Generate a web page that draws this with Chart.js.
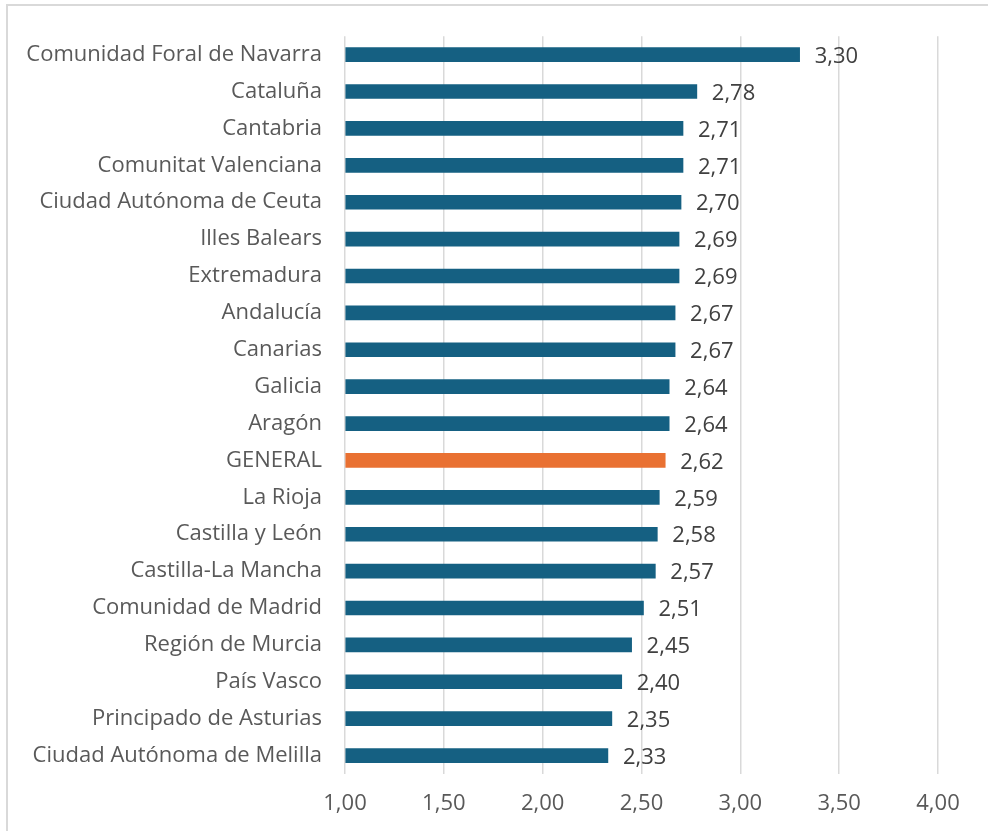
<!DOCTYPE html>
<html>
<head>
<meta charset="utf-8">
<script src="https://cdn.jsdelivr.net/npm/chart.js@4/dist/chart.umd.min.js"></script>
<style>
  html, body { margin: 0; padding: 0; background: #fff; overflow: hidden; }
  #frame { position: absolute; left: 6px; top: 4px; width: 1000px; height: 1000px; border: 2px solid #d9d9d9; }
  #wrap { position: absolute; left: 0; top: 0; width: 988px; height: 831px; }
</style>
</head>
<body>
<div id="frame"></div>
<div id="wrap"><canvas id="grafico"></canvas></div>
<script>
const comunidades = [
  'Comunidad Foral de Navarra', 'Cataluña', 'Cantabria', 'Comunitat Valenciana',
  'Ciudad Autónoma de Ceuta', 'Illes Balears', 'Extremadura', 'Andalucía',
  'Canarias', 'Galicia', 'Aragón', 'GENERAL', 'La Rioja', 'Castilla y León',
  'Castilla-La Mancha', 'Comunidad de Madrid', 'Región de Murcia', 'País Vasco',
  'Principado de Asturias', 'Ciudad Autónoma de Melilla'
];
const valores = [3.30, 2.78, 2.71, 2.71, 2.70, 2.69, 2.69, 2.67, 2.67, 2.64, 2.64, 2.62, 2.59, 2.58, 2.57, 2.51, 2.45, 2.40, 2.35, 2.33];
const ejeMin = 1;
const ejeMax = 4;
const ejePaso = 0.5;

const azul = '#156082';
const naranja = '#E97132';
const fuente = "'Open Sans', 'Noto Sans', sans-serif";

const fmt = v => v.toFixed(2).replace('.', ',');

const etiquetasValor = {
  id: 'etiquetasValor',
  afterDatasetsDraw(chart) {
    const ctx = chart.ctx;
    const meta = chart.getDatasetMeta(0);
    ctx.save();
    ctx.font = '22px ' + fuente;
    ctx.fillStyle = '#404040';
    ctx.textAlign = 'left';
    ctx.textBaseline = 'middle';
    meta.data.forEach((bar, i) => {
      ctx.fillText(fmt(valores[i]), bar.x + 15, bar.y + 2);
    });
    ctx.restore();
  }
};

const chartComunidades = new Chart(document.getElementById('grafico'), {
  type: 'bar',
  data: {
    labels: comunidades,
    datasets: [
      {
        data: valores,
        base: ejeMin,
        barThickness: 14,
        backgroundColor: comunidades.map(c => c === 'GENERAL' ? naranja : azul),
        borderWidth: 0
      }
    ]
  },
  options: {
    indexAxis: 'y',
    responsive: true,
    maintainAspectRatio: false,
    animation: false,
    layout: { padding: { top: 33, right: 50, bottom: 0, left: 0 } },
    plugins: {
      legend: { display: false },
      tooltip: { enabled: false }
    },
    scales: {
      x: {
        min: ejeMin,
        max: ejeMax,
        ticks: {
          stepSize: ejePaso,
          padding: 17,
          color: '#595959',
          font: { family: fuente, size: 22 },
          callback: v => fmt(v)
        },
        grid: { color: '#d9d9d9', lineWidth: 1.5, drawTicks: false },
        border: { display: false },
        afterFit: s => { s.height = 57; }
      },
      y: {
        ticks: {
          padding: 23,
          color: '#595959',
          font: { family: fuente, size: 22 }
        },
        grid: { display: false, drawTicks: false },
        border: { display: false },
        afterFit: s => { s.width = 345; }
      }
    }
  },
  plugins: [etiquetasValor]
});
</script>
</body>
</html>
